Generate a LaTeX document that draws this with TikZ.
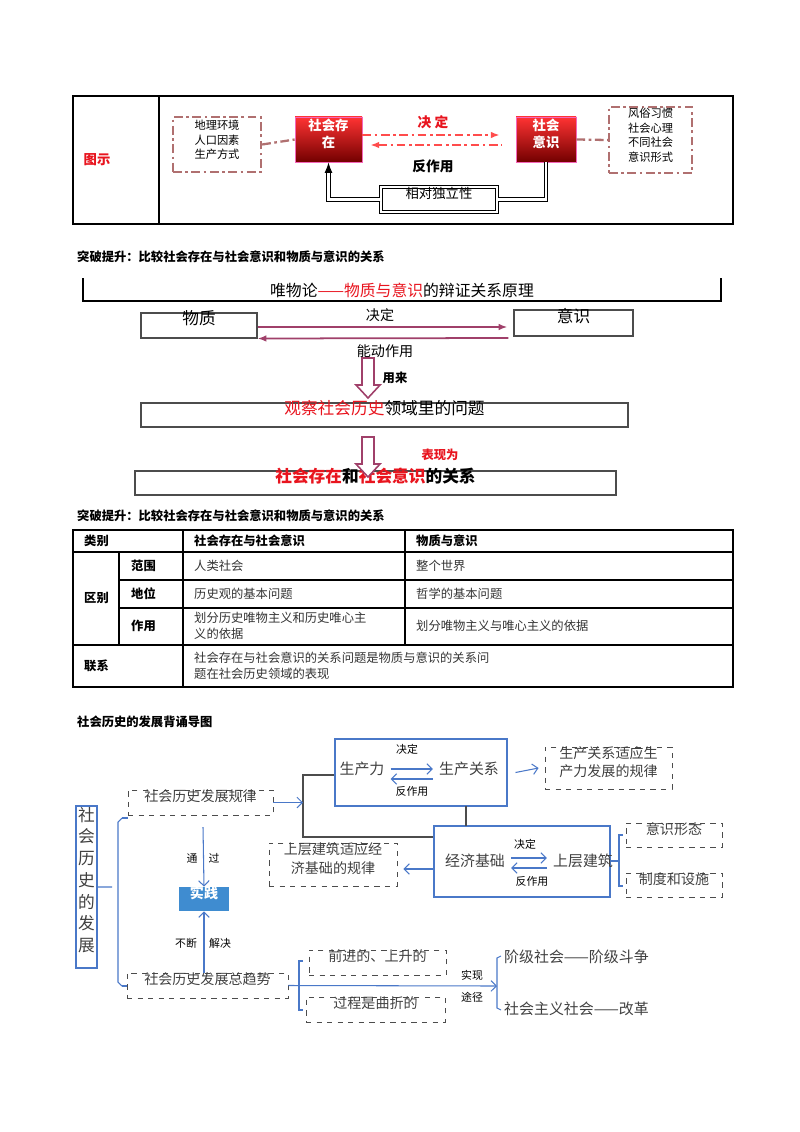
\documentclass[tikz,border=0pt]{standalone}
\usepackage{fontspec}
\setmainfont{Noto Sans CJK SC}
\usetikzlibrary{fit,calc,arrows.meta}
\definecolor{tred}{HTML}{B07070}
\definecolor{pur}{HTML}{A0406A}
\definecolor{mblue}{HTML}{4A78C8}
\definecolor{bred}{HTML}{E8141E}
\newcommand{\fsz}[1]{\fontsize{#1}{\fpeval{#1*1.3}}\selectfont}
\tikzset{
 fb/.style={fit={#1},inner sep=0pt},
 tdash/.style={draw=tred,line width=1.3pt,dash pattern=on 5pt off 2pt on 1.5pt off 2pt},
 redbox/.style={draw=magenta!60,top color=red!80!white,bottom color=red!45!black,text=white,font=\fsz{7.6}\bfseries,align=center},
 plain/.style={draw=black!70,line width=0.6pt},
 mbox/.style={draw=mblue,line width=0.6pt},
 dbox/.style={draw=black!70,dashed,line width=0.5pt,font=\fsz{8}\color{black!75},align=center},
 marr/.style={draw=mblue,line width=0.6pt,-{Straight Barb[length=3pt]}},
 small/.style={font=\fsz{6.2}},
 hollow/.style={draw=pur,line width=0.9pt,fill=white},
}
\begin{document}
\begin{tikzpicture}[x=0.02cm,y=-0.02cm]
\useasboundingbox (0,0) rectangle (800,1132);
% ===== top table =====
\draw[line width=0.8pt] (73,96) rectangle (733,224);
\draw[line width=0.8pt] (159,96) -- (159,224);
\node[text=bred,font=\fsz{7.6}\bfseries] (tushi) at (97,160) {图示};
\node[fb={(173,117)(261,172)},tdash,align=center,font=\fsz{6.4}] (env) {地理环境\\人口因素\\生产方式};
\node[fb={(295,117)(362,162)},redbox] (sbox) {社会存\\在};
\node[fb={(516,117)(576,162)},redbox] (cbox) {社会\\意识};
\node[fb={(609,107)(692,173)},tdash,align=center,font=\fsz{6.4}] (cust) {风俗习惯\\社会心理\\不同社会\\意识形式};
\node[fb={(381,187)(497,212)},draw,double,double distance=1.2pt,line width=0.6pt,font=\fsz{7.6}] (indep) {相对独立性};
\draw[tdash] (env.east) -- (sbox.west);
\draw[tdash] (cbox.east) -- (cust.west);
\draw[tdash,-{Latex[length=5pt]},red!70] ($(sbox.east)+(0,-4.5)$) -- ($(cbox.west)+(-16,-4.5)$);
\draw[tdash,{Latex[length=5pt]}-,red!70] ($(sbox.east)+(8,5.5)$) -- ($(cbox.west)+(-14,5.5)$);
\node[text=bred,font=\fsz{7.8}\bfseries] (jd1) at (433,122) {决 定};
\node[font=\fsz{7.8}\bfseries] (fzy1) at (433,166) {反作用};
\draw[double,double distance=1.2pt,line width=0.6pt] (cbox.south) |- (indep.east);
\draw[double,double distance=1.2pt,line width=0.6pt,-{Latex[length=6pt]}] (indep.west) -| (sbox.south);
% ===== section 2 =====
\node[anchor=west,font=\fsz{7}\bfseries] (h1) at (71,257) {突破提升：比较社会存在与社会意识和物质与意识的关系};
\draw[line width=0.6pt] (83,278) |- (721,301) -- (721,278);
\node[font=\fsz{9}] (wwl) at (402,290) {唯物论\textcolor{bred}{——物质与意识}的辩证关系原理};
\node[fb={(141,313)(257,338)},plain,font=\fsz{9.5}] (wz) {物质};
\node[fb={(514,310)(633,336)},plain,font=\fsz{9.5}] (ys) {意识};
\draw[pur,line width=1pt,-{Latex[length=5pt]}] ($(wz.east)+(0,1.5)$) -- ($(ys.west)+(-6,4)$);
\draw[pur,line width=1pt,-{Latex[length=5pt]}] ($(ys.west)+(-5,15)$) -- ($(wz.east)+(0,13)$);
\node[font=\fsz{8}] (jd2) at (380,315) {决定};
\node[font=\fsz{8}] (ndzy) at (385,351) {能动作用};
\node[fb={(141,403)(628,427)},plain,font=\fsz{9.5}] (gc) {\textcolor{bred}{观察社会历史}领域里的问题};
\node[fb={(135,471)(616,495)},plain,font=\fsz{9.5}\bfseries] (gx) {\textcolor{bred}{社会存在}和\textcolor{bred}{社会意识}的关系};
\coordinate (ha1) at (368,358);
\coordinate (ha2) at (368,437);
\foreach \c in {ha1,ha2}{
 \draw[hollow] ($(\c)+(-6,0)$) -- ($(\c)+(6,0)$) -- ($(\c)+(6,27)$) -- ($(\c)+(12,27)$) -- ($(\c)+(0,40)$) -- ($(\c)+(-12,27)$) -- ($(\c)+(-6,27)$) -- cycle;
}
\node[font=\fsz{7}\bfseries] (yl) at (395,378) {用来};
\node[font=\fsz{7}\bfseries,text=bred] (bxw) at (440,455) {表现为};
% ===== section 3 table =====
\node[anchor=west,font=\fsz{7}\bfseries] (h2) at (71,516) {突破提升：比较社会存在与社会意识和物质与意识的关系};
\draw[line width=0.8pt] (73,530) rectangle (733,687);
\draw[line width=0.6pt] (73,552) -- (733,552) (119,580) -- (733,580) (119,608) -- (733,608) (73,645) -- (733,645);
\draw[line width=0.6pt] (119,552) -- (119,645) (183,530) -- (183,687) (405,530) -- (405,645);
\tikzset{tb/.style={anchor=west,font=\fsz{7}\bfseries},tt/.style={anchor=west,font=\fsz{7},text=black!80,align=left}}
\node[tb] (c11) at (78,541) {类别};
\node[tb] (c12) at (188,541) {社会存在与社会意识};
\node[tb] (c13) at (410,541) {物质与意识};
\node[tb] (qb) at (78,598) {区别};
\node[tb] (fw) at (125,566) {范围};
\node[tb] (dw) at (125,594) {地位};
\node[tb] (zy) at (125,626) {作用};
\node[tt] (t1) at (188,566) {人类社会};
\node[tt] (t2) at (410,566) {整个世界};
\node[tt] (t3) at (188,594) {历史观的基本问题};
\node[tt] (t4) at (410,594) {哲学的基本问题};
\node[tt] (t5) at (188,626) {划分历史唯物主义和历史唯心主\\义的依据};
\node[tt] (t6) at (410,626) {划分唯物主义与唯心主义的依据};
\node[tb] (lx) at (78,666) {联系};
\node[tt] (t7) at (188,666) {社会存在与社会意识的关系问题是物质与意识的关系问\\题在社会历史领域的表现};
% ===== mind map =====
\node[anchor=west,font=\fsz{7}\bfseries] (h3) at (71,722) {社会历史的发展背诵导图};
\node[fb={(76,806)(97,968)},mbox,align=center,font=\fsz{9.5}\color{black!75}] (root) {社\\会\\历\\史\\的\\发\\展};
\node[fb={(128,790)(273,815)},dbox] (gl) {社会历史发展规律};
\node[fb={(127,973)(288,998)},dbox] (qs) {社会历史发展总趋势};
\draw[mblue,line width=0.6pt] (root.east) -- (112,887) (122,818) -- (118,822) -- (118,982) -- (122,986);
\draw[mblue,line width=0.6pt] (122,818) -- (gl.west|-0,818) (122,986) -- (qs.west|-0,986);
\node[fb={(335,739)(507,806)},mbox] (scl) {};
\node[font=\fsz{8.5}\color{black!75}] (scl1) at (362,769) {生产力};
\node[font=\fsz{8.5}\color{black!75}] (scgx) at (469,769) {生产关系};
\node[small] (jd3) at (407,749) {决定};
\node[small] (fz3) at (412,791) {反作用};
\draw[marr] (scl1.east) -- (scgx.west);
\draw[marr] ($(scgx.west)+(0,10)$) -- ($(scl1.east)+(0,10)$);
\node[fb={(545,747)(672,789)},dbox] (gl1) {生产关系适应生\\产力发展的规律};
\draw[marr] ($(scl.east)+(8,0)$) -- ($(gl1.west)+(-6,0)$);
\node[fb={(434,826)(610,897)},mbox] (jj) {};
\node[font=\fsz{8.5}\color{black!75}] (jj1) at (475,861) {经济基础};
\node[font=\fsz{8.5}\color{black!75}] (sc) at (583,861) {上层建筑};
\node[small] (jd4) at (525,844) {决定};
\node[small] (fz4) at (532,881) {反作用};
\draw[marr] ($(jj1.east)+(0,-3)$) -- ($(sc.west)+(0,-3)$);
\draw[marr] ($(sc.west)+(0,7)$) -- ($(jj1.east)+(0,7)$);
\node[fb={(269,843)(397,886)},dbox] (gl2) {上层建筑适应经\\济基础的规律};
\draw[marr] (jj.west|-0,869) -- ($(gl2.east|-0,869)+(6,0)$);
\coordinate (vtop) at (303,775);
\coordinate (vbot) at (303,837);
\draw[black!70,line width=0.6pt] (scl.west|-vtop) -- (vtop) -- (vbot) -- (jj.west|-vbot);
\draw[black!70,line width=0.6pt] (466,806) -- (466,826);
\draw[marr] (gl.east) -- (vtop|-gl.east);
\node[fb={(626,823)(722,847)},dbox] (ysxt) {意识形态};
\node[fb={(626,873)(722,897)},dbox] (zd) {制度和设施};
\draw[mblue,line width=0.6pt] (jj.east|-0,861) -- (619,861) (623,835) -- (619,835) -- (619,886) -- (623,886);
\node[fb={(179,887)(229,911)},fill=mblue!85!cyan,text=white,font=\fsz{8}\bfseries] (sj) {实践};
\draw[marr] (203,827) -- (sj.north);
\draw[marr] (qs.north-|sj) -- (sj.south);
\node[small] (tong) at (192,858) {通};
\node[small] (guo) at (214,858) {过};
\node[small] (bd) at (186,943) {不断};
\node[small] (jj2) at (220,943) {解决};
\node[fb={(309,950)(446,975)},dbox] (qj) {前进的、上升的};
\node[fb={(306,997)(445,1022)},dbox] (gc2) {过程是曲折的};
\coordinate (rb) at (497,986);
\draw[marr] (qs.east) -- (rb);
\draw[mblue,line width=0.6pt] (303,961) -- (299,961) -- (299,1010) -- (303,1010);
\node[small] (sx) at (472,975) {实现};
\node[small] (tj) at (472,997) {途径};
\draw[mblue,line width=0.6pt] (rb) -- (497,958) -- (501,956) (497,986) -- (497,1008) -- (501,1010);
\node[anchor=west,font=\fsz{8.5}\color{black!75}] (jjsh) at (498,957) {阶级社会——阶级斗争};
\node[anchor=west,font=\fsz{8.5}\color{black!75}] (shzy) at (498,1009) {社会主义社会——改革};
\end{tikzpicture}
\end{document}
